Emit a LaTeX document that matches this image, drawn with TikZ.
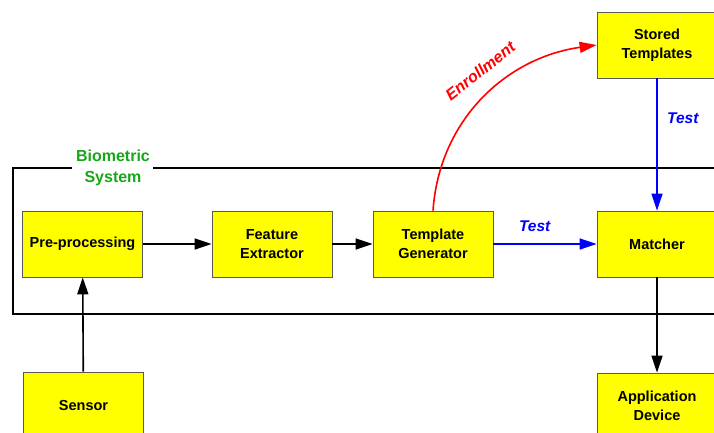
\documentclass[tikz,border=0pt]{standalone}
\usepackage{fontspec}
\setmainfont{Liberation Sans}
\usetikzlibrary{arrows.meta,positioning}
\definecolor{jaune}{RGB}{255,255,0}
\definecolor{vert}{RGB}{25,165,25}

\begin{document}
\begin{tikzpicture}[x=1pt,y=-1pt,
  bloc/.style={draw=gray!70!black,line width=0.8pt,fill=jaune,minimum width=120pt,minimum height=66pt,inner sep=0,align=center,font=\fontsize{14.5}{19}\selectfont\bfseries},
  fleche/.style={line width=1.6pt,-{Triangle[length=17pt,width=11pt]}},
  etiq/.style={font=\fontsize{15.5}{18}\selectfont\bfseries\itshape}]
\useasboundingbox(0,0)rectangle(714,432);
% cadre du systeme
\node[text=vert,align=center,font=\fontsize{16}{21}\selectfont\bfseries](Bio)at(113,168){Biometric\\System};
\draw[line width=2.6pt](72,168)--(13,168)--(13,314)--(720,314);
\draw[line width=2.6pt](153,168)--(720,168);
% blocs
\node[bloc](Pre)at(82.5,244){Pre-processing};
\node[bloc](Fea)at(272,244){Feature\\Extractor};
\node[bloc](Tpl)at(433,244){Template\\Generator};
\node[bloc](Mat)at(657,244){Matcher};
\node[bloc](Sto)at(657,45){Stored\\Templates};
\node[bloc](Sen)at(83.5,405){Sensor};
\node[bloc](App)at(657,406){Application\\Device};
% fleches
\draw[fleche](Sen)--(Pre);
\draw[fleche](Pre)--(Fea);
\draw[fleche](Fea)--(Tpl);
\draw[fleche,blue](Tpl)--node[pos=0.4,above=8pt,etiq]{Test}(Mat);
\draw[fleche,blue](Sto)--node[pos=0.3,right=6pt,etiq]{Test}(Mat);
\draw[fleche](Mat)--(App);
\draw[fleche,red](Tpl.north)to[out=86,in=188]node[pos=0.56,rotate=38,anchor=south,inner sep=16pt,etiq,font=\fontsize{16}{18}\selectfont\bfseries\itshape]{Enrollment}(Sto.west);
\end{tikzpicture}
\end{document}
